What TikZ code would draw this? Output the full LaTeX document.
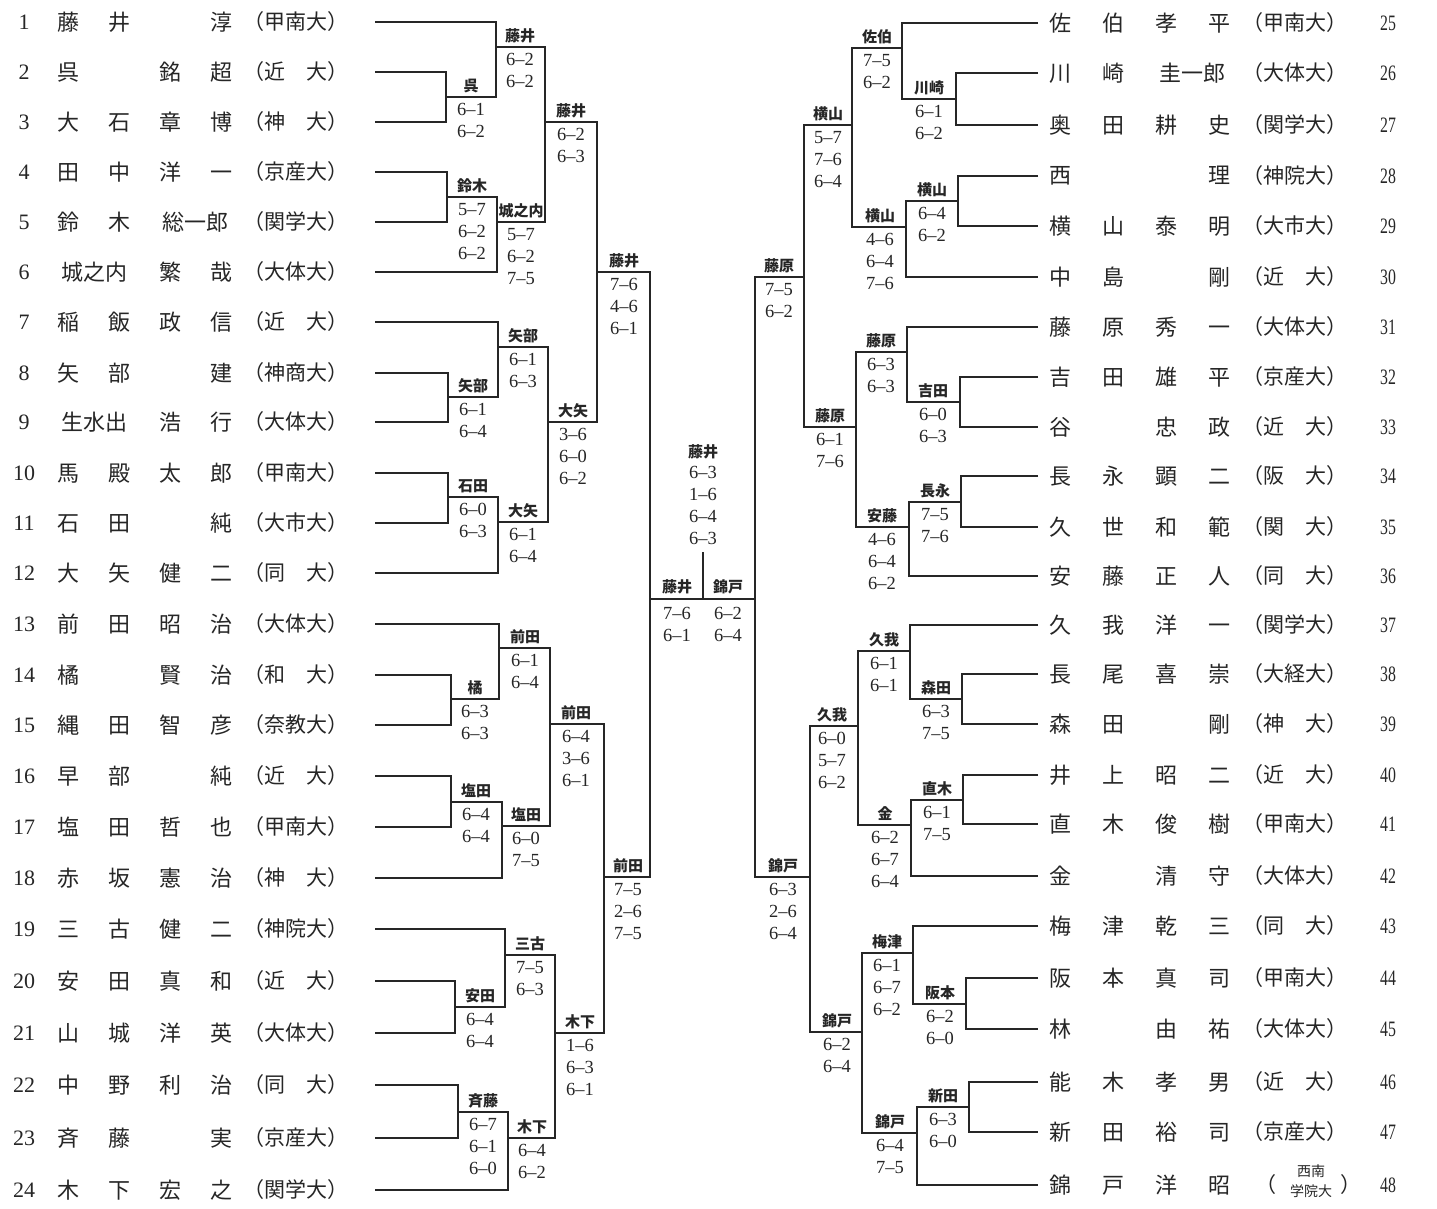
\documentclass[tikz,border=0pt]{standalone}
\usepackage{fontspec}
\usepackage{graphicx}
\setmainfont{Liberation Serif}
\newfontfamily\jp{Noto Sans CJK JP}
\newlength\cellw
\setlength\cellw{51pt}
\newcommand{\cl}[1]{\makebox[\cellw]{#1}}
\newcommand{\cw}[1]{\makebox[2\cellw]{#1}}
\newcommand{\nm}[4]{\cl{#1}\cl{#2}\cl{#3}\cl{#4}}
\tikzset{
  tline/.style={line width=1.1pt, black!85},
  pnum/.style={font=\fontsize{22}{24}\selectfont, inner sep=0pt, text=black!85},
  pname/.style={font=\jp\fontsize{22}{24}\selectfont, inner sep=0pt, text=black!85},
  puni/.style={font=\jp\fontsize{21}{24}\selectfont, inner sep=0pt, text=black!85},
  wname/.style={font=\jp\bfseries\fontsize{15}{17}\selectfont, inner sep=0pt, anchor=south, text=black!85},
  score/.style={font=\fontsize{18.5}{22}\selectfont, inner sep=0pt, anchor=north, align=center, text=black!85},
}
% player rows
\newcommand{\lp}[4]{%
  \node[pnum] (n#1) at (24,#2) {#1};
  \node[pname] (nm#1) at (145,#2) {#3};
  \node[puni] (u#1) at (296,#2) {#4};
  \coordinate (p#1) at (375,#2);}
\newcommand{\rp}[4]{%
  \node[pname] (nm#1) at (1140,#2) {#3};
  \node[puni] (u#1) at (1295,#2) {#4};
  \node[pnum] (n#1) at (1388,#2) {\scalebox{0.72}[1]{#1}};
  \coordinate (p#1) at (1038,#2);}
% match: name, first, second, junction x, out y
\newcommand{\mt}[5]{%
  \coordinate (#1) at (#4,#5);
  \draw[tline] (#2) -| (#1) |- (#3);}
% result label: name, x, y, winner, scores
\newcommand{\res}[5]{%
  \node[wname] (w#1) at (#2,#3-4) {#4};
  \node[score] (s#1) at (#2,#3+6) {#5};}
\begin{document}
\begin{tikzpicture}[x=1pt,y=-1pt]
  \fill[white] (0,0) rectangle (1437,1209);
  \useasboundingbox (0,0) rectangle (1437,1209);
  % left players
  \foreach \i/\y/\nam/\uni in {
    1/22/{\nm{藤}{井}{}{淳}}/（甲南大）,
    2/72/{\nm{呉}{}{銘}{超}}/（近　大）,
    3/122/{\nm{大}{石}{章}{博}}/（神　大）,
    4/172/{\nm{田}{中}{洋}{一}}/（京産大）,
    5/222/{\cl{鈴}\cl{木}\cw{総一郎}}/（関学大）,
    6/272/{\cw{城之内}\cl{繁}\cl{哉}}/（大体大）,
    7/322/{\nm{稲}{飯}{政}{信}}/（近　大）,
    8/373/{\nm{矢}{部}{}{建}}/（神商大）,
    9/422/{\cw{生水出}\cl{浩}\cl{行}}/（大体大）,
    10/473/{\nm{馬}{殿}{太}{郎}}/（甲南大）,
    11/523/{\nm{石}{田}{}{純}}/（大市大）,
    12/573/{\nm{大}{矢}{健}{二}}/（同　大）,
    13/624/{\nm{前}{田}{昭}{治}}/（大体大）,
    14/675/{\nm{橘}{}{賢}{治}}/（和　大）,
    15/725/{\nm{縄}{田}{智}{彦}}/（奈教大）,
    16/776/{\nm{早}{部}{}{純}}/（近　大）,
    17/827/{\nm{塩}{田}{哲}{也}}/（甲南大）,
    18/878/{\nm{赤}{坂}{憲}{治}}/（神　大）,
    19/929/{\nm{三}{古}{健}{二}}/（神院大）,
    20/981/{\nm{安}{田}{真}{和}}/（近　大）,
    21/1033/{\nm{山}{城}{洋}{英}}/（大体大）,
    22/1085/{\nm{中}{野}{利}{治}}/（同　大）,
    23/1138/{\nm{斉}{藤}{}{実}}/（京産大）,
    24/1190/{\nm{木}{下}{宏}{之}}/（関学大）}
    {\lp{\i}{\y}{\nam}{\uni}}
  % right players
  \setlength\cellw{53pt}
  \foreach \i/\y/\nam/\uni in {
    25/23/{\nm{佐}{伯}{孝}{平}}/（甲南大）,
    26/73/{\cl{川}\cl{崎}\cw{圭一郎}}/（大体大）,
    27/125/{\nm{奥}{田}{耕}{史}}/（関学大）,
    28/176/{\nm{西}{}{}{理}}/（神院大）,
    29/226/{\nm{横}{山}{泰}{明}}/（大市大）,
    30/277/{\nm{中}{島}{}{剛}}/（近　大）,
    31/327/{\nm{藤}{原}{秀}{一}}/（大体大）,
    32/377/{\nm{吉}{田}{雄}{平}}/（京産大）,
    33/427/{\nm{谷}{}{忠}{政}}/（近　大）,
    34/476/{\nm{長}{永}{顕}{二}}/（阪　大）,
    35/527/{\nm{久}{世}{和}{範}}/（関　大）,
    36/576/{\nm{安}{藤}{正}{人}}/（同　大）,
    37/625/{\nm{久}{我}{洋}{一}}/（関学大）,
    38/674/{\nm{長}{尾}{喜}{崇}}/（大経大）,
    39/724/{\nm{森}{田}{}{剛}}/（神　大）,
    40/775/{\nm{井}{上}{昭}{二}}/（近　大）,
    41/824/{\nm{直}{木}{俊}{樹}}/（甲南大）,
    42/876/{\nm{金}{}{清}{守}}/（大体大）,
    43/926/{\nm{梅}{津}{乾}{三}}/（同　大）,
    44/978/{\nm{阪}{本}{真}{司}}/（甲南大）,
    45/1029/{\nm{林}{}{由}{祐}}/（大体大）,
    46/1082/{\nm{能}{木}{孝}{男}}/（近　大）,
    47/1132/{\nm{新}{田}{裕}{司}}/（京産大）,
    48/1185/{\nm{錦}{戸}{洋}{昭}}/{}}
    {\rp{\i}{\y}{\nam}{\uni}}
  % two-line affiliation of 48
  \node[puni, anchor=east] (u48a) at (1277,1185) {（};
  \node[font=\jp\fontsize{14}{20}\selectfont, inner sep=0pt, align=center, text=black!85]
    (u48b) at (1311,1181) {西南\\学院大};
  \node[puni, anchor=west] (u48c) at (1340,1185) {）};
  % left half, top
  \mt{m23}{p2}{p3}{446}{97} \res{m23}{471}{97}{呉}{6--1\\6--2}
  \mt{m123}{p1}{m23}{496}{47} \res{m123}{520}{47}{藤井}{6--2\\6--2}
  \mt{m45}{p4}{p5}{447}{197} \res{m45}{472}{197}{鈴木}{5--7\\6--2\\6--2}
  \mt{m456}{m45}{p6}{497}{222} \res{m456}{521}{222}{城之内}{5--7\\6--2\\7--5}
  \mt{q1}{m123}{m456}{545}{122} \res{q1}{571}{122}{藤井}{6--2\\6--3}
  \mt{m89}{p8}{p9}{448}{397} \res{m89}{473}{397}{矢部}{6--1\\6--4}
  \mt{m789}{p7}{m89}{498}{347} \res{m789}{523}{347}{矢部}{6--1\\6--3}
  \mt{m1011}{p10}{p11}{448}{497} \res{m1011}{473}{497}{石田}{6--0\\6--3}
  \mt{m1012}{m1011}{p12}{498}{522} \res{m1012}{523}{522}{大矢}{6--1\\6--4}
  \mt{q2}{m789}{m1012}{548}{422} \res{q2}{573}{422}{大矢}{3--6\\6--0\\6--2}
  \mt{s1}{q1}{q2}{597}{272} \res{s1}{624}{272}{藤井}{7--6\\4--6\\6--1}
  % left half, bottom
  \mt{m1415}{p14}{p15}{451}{699} \res{m1415}{475}{699}{橘}{6--3\\6--3}
  \mt{m1315}{p13}{m1415}{499}{648} \res{m1315}{525}{648}{前田}{6--1\\6--4}
  \mt{m1617}{p16}{p17}{451}{802} \res{m1617}{476}{802}{塩田}{6--4\\6--4}
  \mt{m1618}{m1617}{p18}{502}{826} \res{m1618}{526}{826}{塩田}{6--0\\7--5}
  \mt{q3}{m1315}{m1618}{550}{724} \res{q3}{576}{724}{前田}{6--4\\3--6\\6--1}
  \mt{m2021}{p20}{p21}{455}{1007} \res{m2021}{480}{1007}{安田}{6--4\\6--4}
  \mt{m1921}{p19}{m2021}{505}{955} \res{m1921}{530}{955}{三古}{7--5\\6--3}
  \mt{m2223}{p22}{p23}{458}{1112} \res{m2223}{483}{1112}{斉藤}{6--7\\6--1\\6--0}
  \mt{m2224}{m2223}{p24}{508}{1138} \res{m2224}{532}{1138}{木下}{6--4\\6--2}
  \mt{q4}{m1921}{m2224}{555}{1033} \res{q4}{580}{1033}{木下}{1--6\\6--3\\6--1}
  \mt{s2}{q3}{q4}{604}{877} \res{s2}{628}{877}{前田}{7--5\\2--6\\7--5}
  % right half, top
  \mt{m2627}{p26}{p27}{956}{99} \res{m2627}{929}{99}{川崎}{6--1\\6--2}
  \mt{m2527}{p25}{m2627}{902}{48} \res{m2527}{877}{48}{佐伯}{7--5\\6--2}
  \mt{m2829}{p28}{p29}{958}{201} \res{m2829}{932}{201}{横山}{6--4\\6--2}
  \mt{m2830}{m2829}{p30}{906}{227} \res{m2830}{880}{227}{横山}{4--6\\6--4\\7--6}
  \mt{q5}{m2527}{m2830}{852}{125} \res{q5}{828}{125}{横山}{5--7\\7--6\\6--4}
  \mt{m3233}{p32}{p33}{960}{402} \res{m3233}{933}{402}{吉田}{6--0\\6--3}
  \mt{m3133}{p31}{m3233}{907}{352} \res{m3133}{881}{352}{藤原}{6--3\\6--3}
  \mt{m3435}{p34}{p35}{961}{502} \res{m3435}{935}{502}{長永}{7--5\\7--6}
  \mt{m3436}{m3435}{p36}{909}{527} \res{m3436}{882}{527}{安藤}{4--6\\6--4\\6--2}
  \mt{q6}{m3133}{m3436}{856}{427} \res{q6}{830}{427}{藤原}{6--1\\7--6}
  \mt{s3}{q5}{q6}{804}{277} \res{s3}{779}{277}{藤原}{7--5\\6--2}
  % right half, bottom
  \mt{m3839}{p38}{p39}{962}{699} \res{m3839}{936}{699}{森田}{6--3\\7--5}
  \mt{m3739}{p37}{m3839}{910}{651} \res{m3739}{884}{651}{久我}{6--1\\6--1}
  \mt{m4041}{p40}{p41}{963}{800} \res{m4041}{937}{800}{直木}{6--1\\7--5}
  \mt{m4042}{m4041}{p42}{911}{825} \res{m4042}{885}{825}{金}{6--2\\6--7\\6--4}
  \mt{q7}{m3739}{m4042}{858}{726} \res{q7}{832}{726}{久我}{6--0\\5--7\\6--2}
  \mt{m4445}{p44}{p45}{966}{1004} \res{m4445}{940}{1004}{阪本}{6--2\\6--0}
  \mt{m4345}{p43}{m4445}{913}{953} \res{m4345}{887}{953}{梅津}{6--1\\6--7\\6--2}
  \mt{m4647}{p46}{p47}{969}{1107} \res{m4647}{943}{1107}{新田}{6--3\\6--0}
  \mt{m4648}{m4647}{p48}{917}{1133} \res{m4648}{890}{1133}{錦戸}{6--4\\7--5}
  \mt{q8}{m4345}{m4648}{862}{1032} \res{q8}{837}{1032}{錦戸}{6--2\\6--4}
  \mt{s4}{q7}{q8}{810}{877} \res{s4}{783}{877}{錦戸}{6--3\\2--6\\6--4}
  % final
  \mt{fL}{s1}{s2}{650}{599}
  \mt{fR}{s3}{s4}{755}{599}
  \coordinate (fM) at (703,599);
  \coordinate (fTop) at (703,552);
  \draw[tline] (fL) -- (fR);
  \draw[tline] (fTop) -- (fM);
  \node[wname, anchor=center] (wF) at (703,452) {藤井};
  \node[score] (sF) at (703,466) {6--3\\1--6\\6--4\\6--3};
  \node[wname] (wFL) at (677,594) {藤井};
  \node[wname] (wFR) at (728,594) {錦戸};
  \node[score] (sFL) at (677,607) {7--6\\6--1};
  \node[score] (sFR) at (728,607) {6--2\\6--4};
\end{tikzpicture}
\end{document}
